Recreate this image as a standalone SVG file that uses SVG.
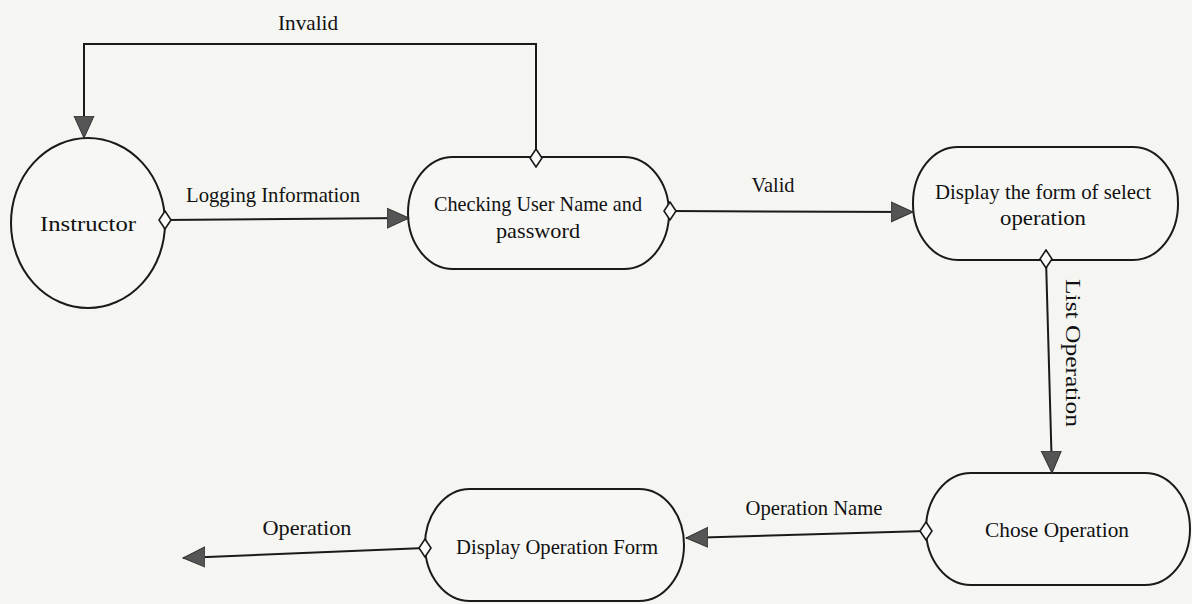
<svg xmlns="http://www.w3.org/2000/svg" width="1192" height="604" viewBox="0 0 1192 604">
  <style>
    .bg { fill: #f5f5f2; }
    .node { fill: #f7f7f5; stroke: #1a1a1a; stroke-width: 2; }
    .conn { fill: none; stroke: #1a1a1a; stroke-width: 2; marker-end: url(#arrow); marker-start: url(#diamond); }
    .t { font-family: "Liberation Serif", "DejaVu Serif", serif; font-size: 21px; fill: #111; text-anchor: middle; }
    .lbl { font-family: "Liberation Serif", "DejaVu Serif", serif; font-size: 21px; fill: #111; text-anchor: middle; }
  </style>
  <defs>
    <marker id="arrow" markerUnits="userSpaceOnUse" markerWidth="24" markerHeight="24" refX="22" refY="10" orient="auto" viewBox="0 0 24 20">
      <path d="M0,0 L22,10 L0,20 Z" fill="#555" stroke="#333" stroke-width="1"/>
    </marker>
    <marker id="diamond" markerUnits="userSpaceOnUse" markerWidth="16" markerHeight="20" refX="8" refY="10" orient="0" viewBox="0 0 16 20">
      <path d="M8,1 L14,10 L8,19 L2,10 Z" fill="#fafafa" stroke="#1a1a1a" stroke-width="1.6"/>
    </marker>
  </defs>
  <rect class="bg" x="0" y="0" width="1192" height="604"/>

  <g id="instructor">
    <ellipse class="node" cx="88" cy="223" rx="77" ry="85"/>
    <text class="t" x="88" y="231" style="font-size:22px" textLength="96" lengthAdjust="spacingAndGlyphs">Instructor</text>
  </g>

  <g id="checking">
    <rect class="node" x="408" y="157" width="261" height="112" rx="45" ry="56"/>
    <text class="t" x="538" y="211" textLength="208" lengthAdjust="spacingAndGlyphs">Checking User Name and</text>
    <text class="t" x="538" y="238" textLength="84" lengthAdjust="spacingAndGlyphs">password</text>
  </g>

  <g id="display-form">
    <rect class="node" x="913" y="147" width="265" height="113" rx="45" ry="56"/>
    <text class="t" x="1043" y="199" textLength="216" lengthAdjust="spacingAndGlyphs">Display the form of select</text>
    <text class="t" x="1043" y="225" textLength="86" lengthAdjust="spacingAndGlyphs">operation</text>
  </g>

  <g id="chose-operation">
    <rect class="node" x="926" y="473" width="264" height="112" rx="45" ry="56"/>
    <text class="t" x="1057" y="537" textLength="144" lengthAdjust="spacingAndGlyphs">Chose Operation</text>
  </g>

  <g id="display-operation-form">
    <rect class="node" x="425" y="489" width="259" height="112" rx="45" ry="56"/>
    <text class="t" x="557" y="554" textLength="202" lengthAdjust="spacingAndGlyphs">Display Operation Form</text>
  </g>

  <g id="connectors">
    <path class="conn" d="M536,158 V44 H84 V138"/>
    <path class="conn" d="M165,220 L409,218"/>
    <path class="conn" d="M670,211 L913,212"/>
    <path class="conn" d="M1046,259 L1052,473"/>
    <path class="conn" d="M926,531 L686,538"/>
    <path class="conn" d="M425,548 L183,558"/>
    <text class="lbl" x="308" y="30" textLength="60" lengthAdjust="spacingAndGlyphs">Invalid</text>
    <text class="lbl" x="273" y="202" textLength="174" lengthAdjust="spacingAndGlyphs">Logging Information</text>
    <text class="lbl" x="773" y="192" textLength="43" lengthAdjust="spacingAndGlyphs">Valid</text>
    <text class="lbl" transform="translate(1066,353) rotate(90)" x="0" y="0" textLength="148" lengthAdjust="spacingAndGlyphs">List Operation</text>
    <text class="lbl" x="814" y="515" textLength="137" lengthAdjust="spacingAndGlyphs">Operation Name</text>
    <text class="lbl" x="307" y="535" textLength="89" lengthAdjust="spacingAndGlyphs">Operation</text>
  </g>
</svg>
